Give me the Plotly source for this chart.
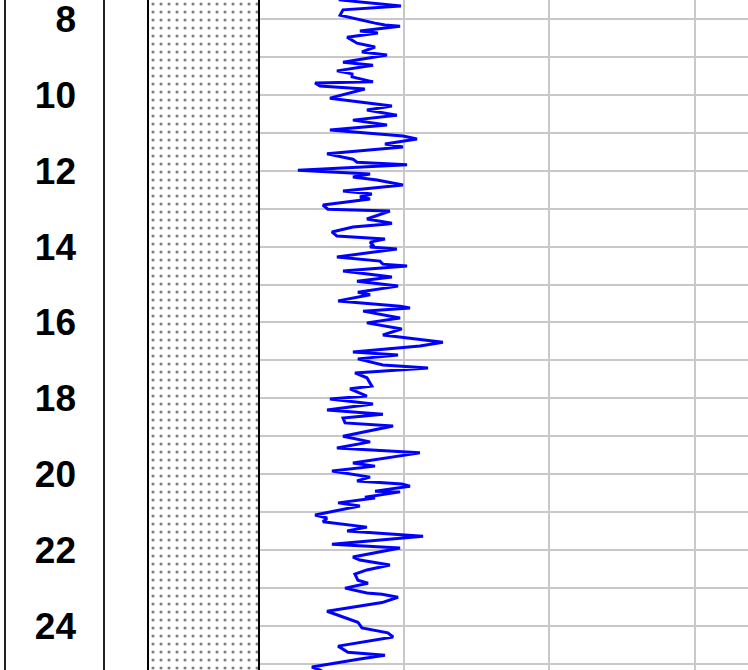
import plotly.graph_objects as go

# Log curve (depth in m, value in API-like units)
depth = [7.36, 7.49, 7.65, 7.75, 7.89, 8.02, 8.10, 8.15, 8.18, 8.31, 8.36, 8.47, 8.63, 8.73, 8.86, 8.94,
         9.13, 9.21, 9.36, 9.44, 9.52, 9.65, 9.68, 9.76, 9.84, 10.08, 10.29, 10.39, 10.53, 10.66, 10.79,
         10.92, 11.08, 11.16, 11.29, 11.37, 11.55, 11.69, 11.77, 11.84, 11.98, 12.08, 12.16, 12.24, 12.37,
         12.53, 12.61, 12.69, 12.74, 12.90, 13.01, 13.06, 13.27, 13.38, 13.40, 13.48, 13.61, 13.72, 13.80,
         13.88, 13.96, 14.01, 14.06, 14.27, 14.38, 14.46, 14.51, 14.64, 14.80, 14.91, 15.04, 15.20, 15.27,
         15.43, 15.57, 15.62, 15.70, 15.88, 16.01, 16.17, 16.33, 16.52, 16.62, 16.78, 16.86, 16.96, 17.12,
         17.20, 17.33, 17.46, 17.68, 17.75, 17.94, 18.02, 18.15, 18.31, 18.42, 18.52, 18.65, 18.73, 19.00,
         19.15, 19.31, 19.44, 19.71, 19.79, 19.92, 20.08, 20.18, 20.26, 20.32, 20.45, 20.47, 20.61, 20.63,
         20.76, 20.84, 21.08, 21.16, 21.26, 21.40, 21.50, 21.64, 21.85, 21.95, 22.19, 22.27, 22.40, 22.53,
         22.64, 22.80, 22.88, 23.01, 23.14, 23.17, 23.25, 23.39, 23.62, 23.78, 23.91, 24.06, 24.19, 24.30,
         24.54, 24.70, 24.78, 24.88, 25.09, 25.17, 25.32]
gr = [28.2, 28.2, 49.1, 29.2, 28.2, 35.0, 40.2, 43.6, 48.8, 35.0, 41.2, 30.6, 34.0, 40.2, 35.7, 44.3,
      29.2, 39.5, 27.1, 32.3, 32.3, 39.5, 19.6, 21.3, 36.7, 24.7, 46.0, 37.4, 47.7, 32.6, 44.3,
      24.7, 49.8, 54.6, 43.6, 49.8, 23.7, 32.6, 34.0, 51.2, 13.7, 38.5, 32.6, 40.9, 49.8,
      29.2, 39.1, 35.0, 38.5, 22.3, 24.0, 45.3, 37.4, 46.0, 44.6, 32.6, 25.4, 27.1, 43.6,
      38.5, 39.5, 38.5, 47.7, 27.1, 41.9, 42.9, 51.2, 29.2, 46.0, 34.0, 48.1, 34.3, 38.5,
      27.5, 48.8, 52.2, 36.1, 48.8, 37.4, 49.4, 42.9, 63.5, 55.6, 32.6, 48.1, 34.3, 42.9,
      58.4, 33.3, 37.4, 39.1, 31.6, 37.4, 24.7, 39.5, 23.7, 42.9, 29.2, 29.9, 46.4, 29.2,
      38.5, 27.1, 55.6, 32.6, 40.2, 25.4, 38.5, 34.0, 49.4, 52.2, 40.2, 48.8, 36.7, 40.2,
      27.5, 35.0, 19.6, 23.7, 22.3, 37.4, 30.6, 56.7, 25.4, 48.8, 32.6, 35.0, 45.3, 37.4,
      33.3, 34.3, 37.8, 29.9, 37.4, 42.6, 48.1, 42.6, 23.7, 29.9, 34.3, 35.7, 44.6, 46.4,
      27.5, 30.9, 43.6, 35.0, 18.5, 21.3, 24.7]

# Lithology interval (sandstone)
lith_top = 7.0
lith_base = 26.0

# Depth tick labels
depth_ticks = [8, 10, 12, 14, 16, 18, 20, 22, 24]
depth_range = [25.17, 7.49]
gr_range = [0, 168.3]

W, H = 748, 670
fig = go.Figure()

fig.add_trace(go.Scatter(
    x=[0, 1, 1, 0, 0], y=[lith_top, lith_top, lith_base, lith_base, lith_top],
    xaxis="x2", yaxis="y2", mode="lines", line=dict(width=0, color="white"),
    fill="toself", fillcolor="white",
    fillpattern=dict(shape=".", fgcolor="black", bgcolor="white", size=8, solidity=0.12),
    showlegend=False, hoverinfo="skip"))

fig.add_trace(go.Scatter(x=[None], y=[None], xaxis="x3", yaxis="y3", showlegend=False))
fig.add_trace(go.Scatter(x=[None], y=[None], xaxis="x4", yaxis="y4", showlegend=False))

fig.add_trace(go.Scatter(
    x=gr, y=depth, xaxis="x", yaxis="y", mode="lines",
    line=dict(color="#0000ff", width=3), showlegend=False))

axis_off = dict(showgrid=False, zeroline=False, showticklabels=False, ticks="", showline=False)

fig.update_layout(
    width=W, height=H, margin=dict(l=0, r=0, t=0, b=0),
    paper_bgcolor="white", plot_bgcolor="white",
    xaxis=dict(domain=[258 / W, 1], range=gr_range, tick0=0, dtick=50, showgrid=True,
               gridcolor="#c8c8c8", gridwidth=2, zeroline=False, showticklabels=False,
               ticks="", showline=False),
    yaxis=dict(range=depth_range, tick0=0, dtick=1, showgrid=True, gridcolor="#c8c8c8",
               gridwidth=1.5, zeroline=False, showticklabels=False, ticks="", showline=False,
               anchor="x"),
    xaxis2=dict(domain=[149 / W, 258 / W], range=[0, 1], **axis_off, anchor="y2"),
    yaxis2=dict(range=depth_range, matches="y", anchor="x2", showgrid=False, zeroline=False,
                showticklabels=False, ticks="", showline=True, mirror=True,
                linecolor="black", linewidth=1.5),
    xaxis3=dict(domain=[6 / W, 103 / W], range=[0, 1], **axis_off, anchor="y3"),
    yaxis3=dict(range=depth_range, matches="y", anchor="x3", showgrid=False, zeroline=False,
                showticklabels=False, ticks="", showline=True, mirror=True,
                linecolor="#222", linewidth=1.5),
    xaxis4=dict(domain=[77 / W, 103 / W], range=[0, 1], **axis_off, anchor="y4"),
    yaxis4=dict(range=depth_range, matches="y", anchor="x4", side="left",
                tickvals=depth_ticks, ticktext=[str(t) for t in depth_ticks],
                ticks="", ticklabelstandoff=0, ticklabeloverflow="allow",
                tickfont=dict(family="Liberation Sans", size=37, color="black", weight="bold"),
                showgrid=False, zeroline=False, showline=False),
)

fig.write_html("out.html", config={"displayModeBar": False},
               post_script="document.body.style.margin='0';document.body.style.overflow='hidden';")
